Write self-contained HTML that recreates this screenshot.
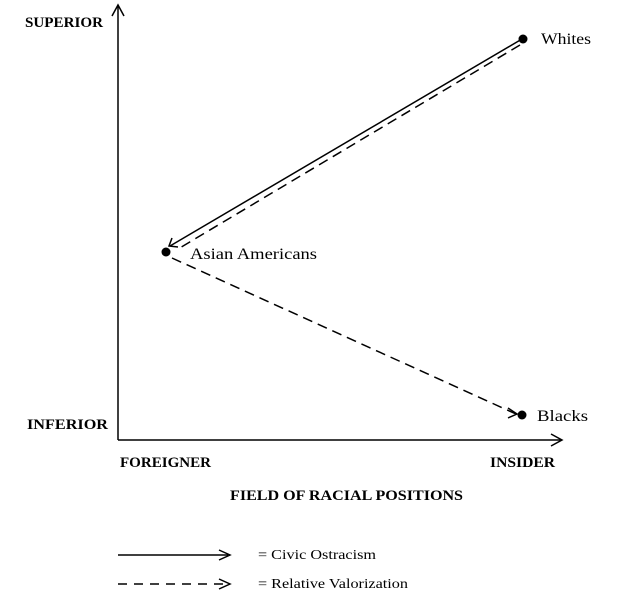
<!DOCTYPE html>
<html><head><style>
body{margin:0;background:#fff;}
svg text{font-family:"Liberation Serif",serif;fill:#000;}
</style></head><body>
<svg width="624" height="605" viewBox="0 0 624 605" xmlns="http://www.w3.org/2000/svg">
<g stroke="#000" fill="none" stroke-width="1.5">
<line x1="118" y1="440" x2="118" y2="6"/>
<polyline points="112,16 118,5 124,16"/>
<line x1="118" y1="440" x2="561" y2="440"/>
<polyline points="551,434 562,440 551,446"/>
<line x1="522" y1="39" x2="170" y2="246"/>
<polyline points="172,238 169,246 178,247"/>
<line x1="520" y1="45" x2="178" y2="249" stroke-dasharray="10,6"/>
<line x1="172" y1="258" x2="516" y2="414" stroke-dasharray="10,6"/>
<polyline points="508,408 517,414 508,418"/>
<line x1="118" y1="555" x2="228" y2="555"/>
<polyline points="219,550 230,555 219,560"/>
<line x1="118" y1="584" x2="228" y2="584" stroke-dasharray="9,7"/>
<polyline points="219,579 230,584 219,589"/>
</g>
<circle cx="523" cy="39" r="4.5"/>
<circle cx="166" cy="252" r="4.5"/>
<circle cx="522" cy="415" r="4.5"/>
<g font-weight="bold" font-size="15">
<text x="25" y="27" textLength="78" lengthAdjust="spacingAndGlyphs">SUPERIOR</text>
<text x="27" y="429" textLength="81" lengthAdjust="spacingAndGlyphs">INFERIOR</text>
<text x="120" y="467" textLength="91" lengthAdjust="spacingAndGlyphs">FOREIGNER</text>
<text x="490" y="467" textLength="65" lengthAdjust="spacingAndGlyphs">INSIDER</text>
<text x="230" y="500" textLength="233" lengthAdjust="spacingAndGlyphs">FIELD OF RACIAL POSITIONS</text>
</g>
<g font-size="16">
<text x="541" y="44" textLength="50" lengthAdjust="spacingAndGlyphs">Whites</text>
<text x="190" y="259" textLength="127" lengthAdjust="spacingAndGlyphs">Asian Americans</text>
<text x="537" y="421" textLength="51" lengthAdjust="spacingAndGlyphs">Blacks</text>
</g>
<g font-size="14">
<text x="258" y="559" textLength="118" lengthAdjust="spacingAndGlyphs">= Civic Ostracism</text>
<text x="258" y="588" textLength="150" lengthAdjust="spacingAndGlyphs">= Relative Valorization</text>
</g>
</svg>
</body></html>
